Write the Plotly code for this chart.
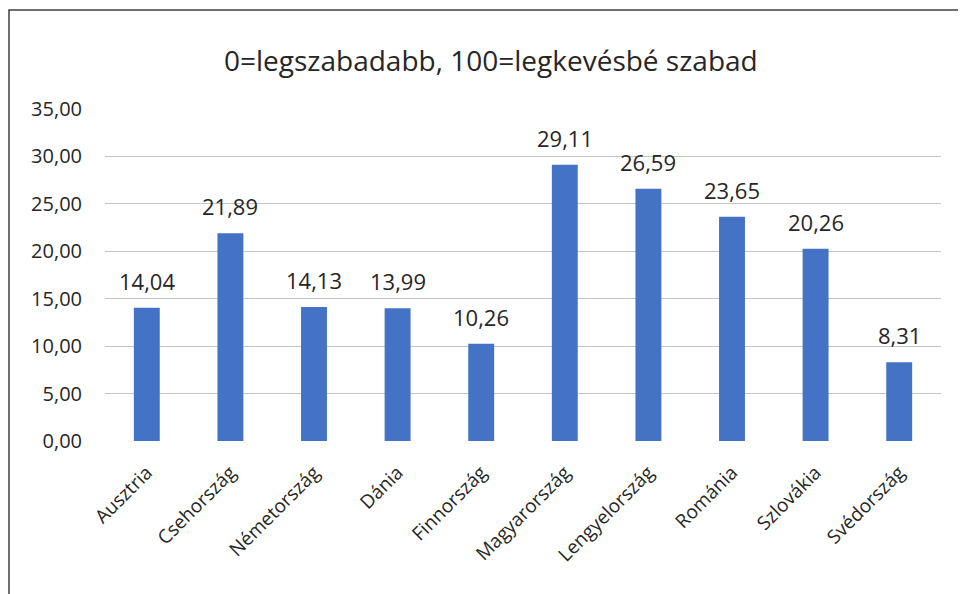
import plotly.graph_objects as go

categories = ["Ausztria", "Csehország", "Németország", "Dánia", "Finnország",
              "Magyarország", "Lengyelország", "Románia", "Szlovákia", "Svédország"]
values = [14.04, 21.89, 14.13, 13.99, 10.26, 29.11, 26.59, 23.65, 20.26, 8.31]
y_ticks = [0, 5, 10, 15, 20, 25, 30, 35]
title_text = "0=legszabadabb, 100=legkevésbé szabad"

FONT = "Open Sans"
W, H = 966, 594
L, R, T, B = 97, 33, 101, 161
pw = W - L - R
ph = H - T - B

def px(fx):
    return (fx - L) / pw

def py(fy):
    return (H - B - fy) / ph

fig = go.Figure(go.Bar(
    x=categories, y=values,
    marker=dict(color="#4472C4", line=dict(width=0)),
    width=0.31,
    hoverinfo="x+y",
))

annotations = [dict(
    text=title_text, xref="paper", yref="paper",
    x=px(483), y=py(52), xanchor="center", yanchor="middle",
    showarrow=False, font=dict(family=FONT, size=28, color="#262626"),
)]
for c, v in zip(categories, values):
    annotations.append(dict(
        x=c, y=v, xref="x", yref="y", text=f"{v:.2f}".replace(".", ","),
        showarrow=False, yanchor="bottom", yshift=10,
        font=dict(family=FONT, size=22, color="#262626"),
    ))

fig.update_layout(
    width=W, height=H,
    margin=dict(l=L, r=R, t=T, b=B),
    paper_bgcolor="white", plot_bgcolor="white",
    separators=",.",
    showlegend=False,
    font=dict(family=FONT, color="#262626"),
    annotations=annotations,
    shapes=[dict(
        type="rect", xref="paper", yref="paper",
        x0=px(1), x1=px(990), y0=py(640), y1=py(2),
        line=dict(color="#404040", width=1.5), fillcolor="rgba(0,0,0,0)", layer="below",
    )],
)

fig.update_yaxes(
    range=[0, 35], tickvals=y_ticks, tickformat=".2f",
    showgrid=True, gridcolor="#c4c4c4", gridwidth=1,
    zeroline=False, showline=False,
    ticks="", ticklabelstandoff=22,
    tickfont=dict(family=FONT, size=20, color="#262626"),
)
fig.update_xaxes(
    tickangle=-45, showgrid=False, showline=False, zeroline=False,
    ticks="outside", ticklen=12, tickcolor="rgba(0,0,0,0)",
    tickfont=dict(family=FONT, size=19, color="#262626"),
)

fig.write_html("out.html")
